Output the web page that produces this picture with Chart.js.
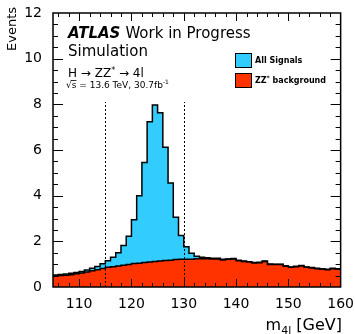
<!DOCTYPE html>
<html>
<head>
<meta charset="utf-8">
<script src="https://cdn.jsdelivr.net/npm/chart.js@4.4.1/dist/chart.umd.min.js"></script>
<style>
  html, body { margin: 0; padding: 0; background: #fff; }
</style>
</head>
<body>
<canvas id="m4lChart" width="355" height="334"></canvas>
<script>
// m4l histogram, 1 GeV bins (low edges, plus the last upper edge)
const binEdges = [105, 106, 107, 108, 109, 110, 111, 112, 113, 114, 115, 116, 117, 118, 119,
  120, 121, 122, 123, 124, 125, 126, 127, 128, 129, 130, 131, 132, 133, 134, 135, 136, 137,
  138, 139, 140, 141, 142, 143, 144, 145, 146, 147, 148, 149, 150, 151, 152, 153, 154, 155,
  156, 157, 158, 159, 160];

const zzBackground = [0.48, 0.50, 0.51, 0.54, 0.58, 0.61, 0.66, 0.71, 0.76, 0.81,
  0.86, 0.89, 0.92, 0.95, 0.99, 1.03, 1.04, 1.07, 1.09, 1.12,
  1.14, 1.16, 1.17, 1.20, 1.21, 1.22, 1.21, 1.24, 1.24, 1.24,
  1.23, 1.23, 1.18, 1.21, 1.23, 1.15, 1.12, 1.09, 1.05, 1.06,
  1.12, 0.99, 0.98, 0.98, 0.91, 0.86, 0.89, 0.92, 0.86, 0.83,
  0.80, 0.78, 0.76, 0.80, 0.78];

const allSignals = [0.05, 0.05, 0.06, 0.06, 0.06, 0.07, 0.09, 0.11, 0.14, 0.21,
  0.29, 0.41, 0.58, 0.87, 1.23, 1.92, 2.96, 4.38, 6.15, 6.85,
  6.49, 4.96, 3.38, 1.85, 1.05, 0.54, 0.27, 0.11, 0.06, 0.04,
  0.03, 0.03, 0.03, 0.02, 0.02, 0.02, 0.02, 0.02, 0.02, 0.02,
  0.02, 0.02, 0.02, 0.02, 0.02, 0.02, 0.02, 0.02, 0.02, 0.02,
  0.02, 0.02, 0.02, 0.02, 0.02];

const xTickLabels = [110, 120, 130, 140, 150, 160];
const yTickLabels = [0, 2, 4, 6, 8, 10, 12];
const massWindow = [115, 130];
const windowLineTop = 8.1;

const FONT = 'DejaVu Sans';

// turn bin contents into step points, repeating the last bin at the upper edge
function toSteps(values) {
    let pts = values.map(function (v, i) {
        return { x: binEdges[i], y: v };
    });
    pts.push({ x: binEdges[values.length], y: values[values.length - 1] });
    return pts;
}

function put(ctx, str, x, y, font) {
    ctx.font = font;
    ctx.fillText(str, x, y);
    return x + ctx.measureText(str).width;
}

const histFrame = {
    id: 'histFrame',
    afterDatasetsDraw(chart) {
        const { ctx, chartArea: area, scales: { x, y } } = chart;
        ctx.save();
        ctx.strokeStyle = '#000';

        // mass window
        ctx.lineWidth = 1;
        ctx.setLineDash([2, 2]);
        massWindow.forEach(function (m) {
            const px = Math.round(x.getPixelForValue(m)) + 0.5;
            ctx.beginPath();
            ctx.moveTo(px, y.getPixelForValue(0));
            ctx.lineTo(px, y.getPixelForValue(windowLineTop));
            ctx.stroke();
        });
        ctx.setLineDash([]);

        // inward ticks on all four sides
        ctx.beginPath();
        for (let m = 106; m < 160; m += 2) {
            const px = Math.round(x.getPixelForValue(m)) + 0.5;
            const len = m % 10 === 0 ? 8 : 4;
            ctx.moveTo(px, area.bottom); ctx.lineTo(px, area.bottom - len);
            ctx.moveTo(px, area.top); ctx.lineTo(px, area.top + len);
        }
        for (let v = 0.5; v < 12; v += 0.5) {
            const py = Math.round(y.getPixelForValue(v)) + 0.5;
            const len = v % 2 === 0 ? 10 : 5;
            ctx.moveTo(area.left, py); ctx.lineTo(area.left + len, py);
            ctx.moveTo(area.right, py); ctx.lineTo(area.right - len, py);
        }
        ctx.stroke();

        ctx.lineWidth = 1.5;
        ctx.strokeRect(area.left, area.top, area.right - area.left, area.bottom - area.top);
        ctx.restore();
    },
    afterDraw(chart) {
        const ctx = chart.ctx;
        ctx.save();
        ctx.fillStyle = '#000';
        ctx.textBaseline = 'alphabetic';
        ctx.textAlign = 'left';

        // ATLAS label
        let cx = put(ctx, 'ATLAS', 68, 38, 'italic bold 15px ' + FONT);
        put(ctx, 'Work in Progress', cx + 5, 38, '15px ' + FONT);
        put(ctx, 'Simulation', 68, 56, '15px ' + FONT);

        cx = put(ctx, 'H \u2192 ZZ', 68, 77, '12px ' + FONT);
        cx = put(ctx, '*', cx, 73, '8px ' + FONT);
        put(ctx, ' \u2192 4l', cx, 77, '12px ' + FONT);

        cx = put(ctx, '\u221A', 66, 88, '9px ' + FONT);
        const sx = cx;
        cx = put(ctx, 's', cx, 88, '9px ' + FONT);
        ctx.lineWidth = 0.8;
        ctx.beginPath();
        ctx.moveTo(sx - 1, 80.5); ctx.lineTo(cx, 80.5);
        ctx.stroke();
        cx = put(ctx, ' = 13.6 TeV, 30.7fb', cx, 88, '9px ' + FONT);
        put(ctx, '-1', cx, 84, '6px ' + FONT);

        // legend
        ctx.lineWidth = 1;
        ctx.fillStyle = '#33ccff';
        ctx.fillRect(235, 53, 16, 14);
        ctx.strokeRect(235.5, 53.5, 16, 14);
        ctx.fillStyle = '#ff3300';
        ctx.fillRect(235, 73, 16, 14);
        ctx.strokeRect(235.5, 73.5, 16, 14);
        ctx.fillStyle = '#000';
        put(ctx, 'All Signals', 255, 63, 'bold 8px ' + FONT);
        cx = put(ctx, 'ZZ', 255, 83, 'bold 8px ' + FONT);
        cx = put(ctx, '*', cx, 80, 'bold 6px ' + FONT);
        put(ctx, ' background', cx, 83, 'bold 8px ' + FONT);

        // axis titles
        ctx.font = '16px ' + FONT;
        const wm = ctx.measureText('m').width;
        const wRest = ctx.measureText(' [GeV]').width;
        ctx.font = '11px ' + FONT;
        const wSub = ctx.measureText('4l').width;
        cx = 342 - wm - wSub - wRest;
        cx = put(ctx, 'm', cx, 330, '16px ' + FONT);
        cx = put(ctx, '4l', cx, 334, '11px ' + FONT);
        put(ctx, ' [GeV]', cx, 330, '16px ' + FONT);

        ctx.translate(13, 7);
        ctx.rotate(-Math.PI / 2);
        ctx.textAlign = 'right';
        ctx.textBaseline = 'middle';
        ctx.font = '13px ' + FONT;
        ctx.fillText('Events', 0, 0);
        ctx.restore();
    }
};

new Chart(document.getElementById('m4lChart'), {
    type: 'line',
    data: {
        datasets: [
            {
                label: 'ZZ* background',
                data: toSteps(zzBackground),
                stepped: 'before',
                borderColor: '#000000',
                borderWidth: 1.5,
                backgroundColor: '#ff3300',
                fill: 'origin',
                pointRadius: 0
            },
            {
                label: 'All Signals',
                data: toSteps(allSignals),
                stepped: 'before',
                borderColor: '#000000',
                borderWidth: 1.5,
                backgroundColor: '#33ccff',
                fill: '-1',
                pointRadius: 0
            }
        ]
    },
    options: {
        responsive: false,
        animation: false,
        layout: { padding: { top: 13, right: 14, left: 0, bottom: 0 } },
        plugins: {
            legend: { display: false },
            tooltip: { enabled: false }
        },
        scales: {
            x: {
                type: 'linear',
                min: 105,
                max: 160,
                grid: { display: false },
                border: { display: false },
                ticks: {
                    color: '#000',
                    padding: 1,
                    maxRotation: 0,
                    font: { family: FONT, size: 14 }
                },
                afterBuildTicks: function (scale) {
                    scale.ticks = xTickLabels.map(function (v) { return { value: v }; });
                },
                afterFit: function (scale) { scale.height = 47; }
            },
            y: {
                min: 0,
                max: 12,
                stacked: true,
                grid: { display: false },
                border: { display: false },
                ticks: {
                    color: '#000',
                    padding: 3,
                    font: { family: FONT, size: 14 }
                },
                afterBuildTicks: function (scale) {
                    scale.ticks = yTickLabels.map(function (v) { return { value: v }; });
                },
                afterFit: function (scale) { scale.width = 53; }
            }
        }
    },
    plugins: [histFrame]
});
</script>
</body>
</html>
